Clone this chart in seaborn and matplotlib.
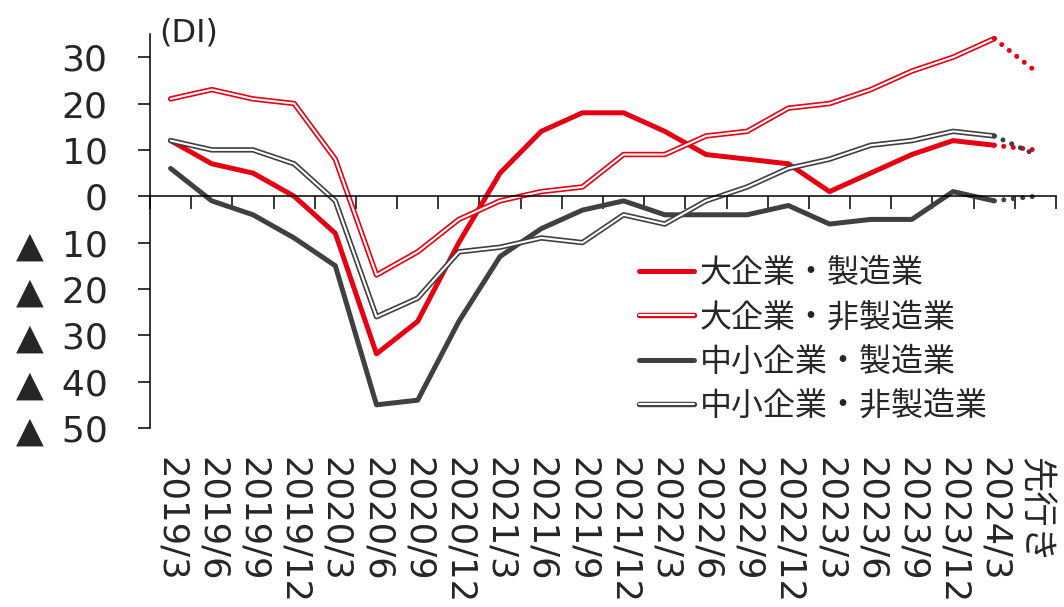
import numpy as np
import pandas as pd
import matplotlib
matplotlib.use("Agg")
import matplotlib.pyplot as plt
import matplotlib.patheffects as pe
import seaborn as sns
from matplotlib.lines import Line2D

# Survey periods (last entry is the forecast)
periods = ["2019/3", "2019/6", "2019/9", "2019/12", "2020/3", "2020/6", "2020/9", "2020/12",
           "2021/3", "2021/6", "2021/9", "2021/12", "2022/3", "2022/6", "2022/9", "2022/12",
           "2023/3", "2023/6", "2023/9", "2023/12", "2024/3", "先行き"]

# Business conditions DI
large_mfg = [12, 7, 5, 0, -8, -34, -27, -10, 5, 14, 18, 18, 14, 9, 8, 7, 1, 5, 9, 12, 11, 10]
large_nonmfg = [21, 23, 21, 20, 8, -17, -12, -5, -1, 1, 2, 9, 9, 13, 14, 19, 20, 23, 27, 30, 34, 27]
small_mfg = [6, -1, -4, -9, -15, -45, -44, -27, -13, -7, -3, -1, -4, -4, -4, -2, -6, -5, -5, 1, -1, 0]
small_nonmfg = [12, 10, 10, 7, -1, -26, -22, -12, -11, -9, -10, -4, -6, -1, 2, 6, 8, 11, 12, 14, 13, 9]

series_names = ["大企業・製造業", "大企業・非製造業", "中小企業・製造業", "中小企業・非製造業"]
series_values = [large_mfg, large_nonmfg, small_mfg, small_nonmfg]

y_ticks = [30, 20, 10, 0, -10, -20, -30, -40, -50]

RED = "#E60012"
GRAY = "#404040"
styles = [(RED, False), (RED, True), (GRAY, False), (GRAY, True)]

sns.set_style("white")
plt.rcParams["font.family"] = ["DejaVu Sans", "Noto Sans CJK JP"]

df = pd.DataFrame({"pos": np.arange(len(periods))})
for name, vals in zip(series_names, series_values):
    df[name] = vals
n_obs = len(periods) - 1  # actual observations; last point is the forecast
obs = df.iloc[:n_obs]
fc = df.iloc[n_obs - 1:]

fig = plt.figure(figsize=(10.64, 6.07), dpi=100)
ax = fig.add_axes([150 / 1064, 1 - 428 / 607, (1056 - 150) / 1064, (428 - 34) / 607])

THICK = 3.6
OUTER = 3.9
INNER = 1.5

handles = []
for name, (color, double) in zip(series_names, styles):
    if double:
        # hollow double line: white core over a coloured stroke
        effects = [pe.Stroke(linewidth=OUTER, foreground=color), pe.Normal()]
        sns.lineplot(data=obs, x="pos", y=name, ax=ax, color="white", linewidth=INNER,
                     estimator=None, errorbar=None, solid_capstyle="round",
                     path_effects=effects, legend=False)
        handles.append(Line2D([], [], color="white", lw=INNER, solid_capstyle="round",
                              path_effects=effects))
    else:
        sns.lineplot(data=obs, x="pos", y=name, ax=ax, color=color, linewidth=THICK,
                     estimator=None, errorbar=None, solid_capstyle="round", legend=False)
        handles.append(Line2D([], [], color=color, lw=THICK, solid_capstyle="round"))
    # forecast segment as round dots
    sns.lineplot(data=fc, x="pos", y=name, ax=ax, color=color, linewidth=THICK,
                 estimator=None, errorbar=None, linestyle=(0, (0.01, 1.9)),
                 dash_capstyle="round", legend=False)

ax.set_xlim(-0.5, len(periods) - 0.5)
ax.set_ylim(-50, 35)
ax.set_xlabel("")
ax.set_ylabel("")

# zero line with category boundary ticks
for s in ["top", "right"]:
    ax.spines[s].set_visible(False)
ax.spines["bottom"].set_position(("data", 0))
for s in ["bottom", "left"]:
    ax.spines[s].set_color("black")
    ax.spines[s].set_linewidth(1.1)
ax.set_xticks(np.arange(-0.5, len(periods), 1.0))
ax.tick_params(axis="x", which="both", length=9, width=1.1, direction="out",
               color="black", labelbottom=False, bottom=True)

# period labels along the bottom
sec = ax.secondary_xaxis("bottom")
sec.set_xticks(df["pos"].to_numpy(), labels=periods)
sec.tick_params(axis="x", length=0, pad=21, labelsize=25.5)
sec.spines["bottom"].set_visible(False)
for lab in sec.get_xticklabels():
    lab.set_rotation(270)
    lab.set_va("top")
    lab.set_ha("center")

ax.set_yticks(y_ticks)
ax.set_yticklabels([f"▲\u2002{-v}" if v < 0 else f"{v}" for v in y_ticks])
ax.tick_params(axis="y", length=8.6, width=1.1, direction="out", color="black",
               pad=22, labelsize=26, left=True)

fig.text(159 / 1064, 1 - 18 / 607, "(DI)", fontsize=23, va="top", ha="left")

leg = ax.legend(handles, series_names,
                loc="center left", bbox_to_anchor=(639 / 1064, 1 - 340 / 607),
                bbox_transform=fig.transFigure, frameon=False, fontsize=23,
                handlelength=1.72, handletextpad=0.18, labelspacing=0.42,
                borderaxespad=0, borderpad=0)

fig.savefig("out.png", dpi=100)
